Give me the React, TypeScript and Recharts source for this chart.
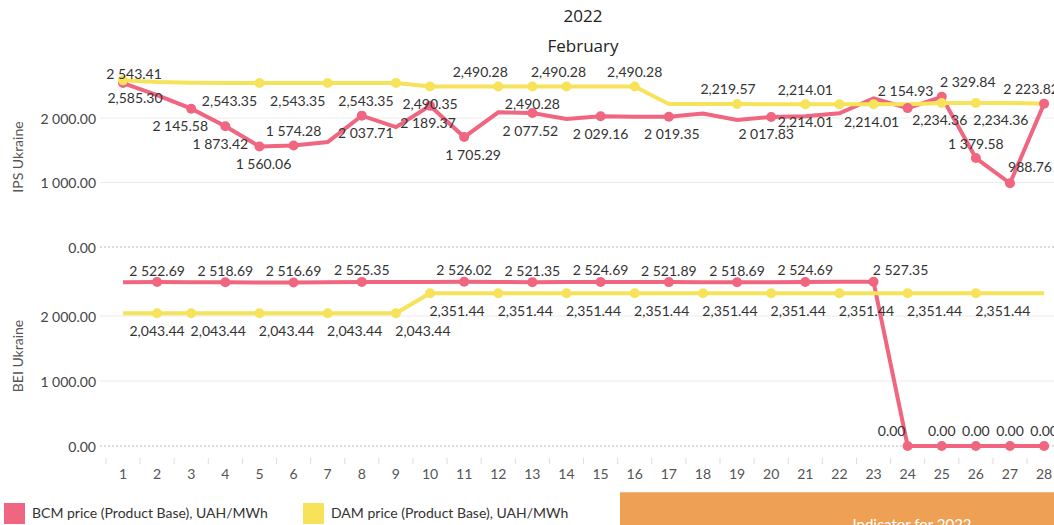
import { LineChart, Line, XAxis, YAxis, ReferenceLine, LabelList } from 'recharts'

const days = [1, 2, 3, 4, 5, 6, 7, 8, 9, 10, 11, 12, 13, 14, 15, 16, 17, 18, 19, 20, 21, 22, 23, 24, 25, 26, 27, 28]
const ipsBcm = [2543.41, 2355, 2145.58, 1873.42, 1560.06, 1574.28, 1628, 2037.71, 1860, 2189.37, 1705.29, 2090, 2077.52, 1985, 2029.16, 2020, 2019.35, 2070, 1970, 2017.83, 2028, 2075, 2305, 2154.93, 2329.84, 1379.58, 988.76, 2223.82]
const ipsDam = [2585.3, 2560, 2550, 2545, 2543.35, 2543.35, 2543.35, 2543.35, 2543.35, 2490.35, 2490.28, 2490.28, 2490.28, 2490.28, 2490.28, 2490.28, 2219.57, 2219.57, 2219.57, 2214.01, 2214.01, 2214.01, 2214.01, 2214.01, 2234.36, 2234.36, 2234.36, 2223.82]
const beiBcm = [2520, 2522.69, 2520, 2518.69, 2517, 2516.69, 2520, 2525.35, 2525, 2525, 2526.02, 2523, 2521.35, 2523, 2524.69, 2523, 2521.89, 2520, 2518.69, 2521, 2524.69, 2526, 2527.35, 0, 0, 0, 0, 0]
const beiDam = [2043.44, 2043.44, 2043.44, 2043.44, 2043.44, 2043.44, 2043.44, 2043.44, 2043.44, 2351.44, 2351.44, 2351.44, 2351.44, 2351.44, 2351.44, 2351.44, 2351.44, 2351.44, 2351.44, 2351.44, 2351.44, 2351.44, 2351.44, 2351.44, 2351.44, 2351.44, 2351.44, 2351.44]
const yTicks = [0, 1000, 2000]

const PINK = '#f0657f'
const YELLOW = '#f6e35a'
const FONT = 'Lato, "Open Sans", sans-serif'

// which points carry a label (and a marker); side + nudge like tableau placed them
type Lab = { day: number; side: 'up' | 'down'; dx?: number; dy?: number }
const topBcmLabs: Lab[] = [
  { day: 1, side: 'up', dx: 11, dy: -10 }, { day: 3, side: 'down', dx: -11 }, { day: 4, side: 'down', dx: -5 },
  { day: 5, side: 'down', dx: 4 }, { day: 6, side: 'up' }, { day: 8, side: 'down', dx: 4 },
  { day: 10, side: 'down', dx: -2 }, { day: 11, side: 'down', dx: 9 }, { day: 13, side: 'down', dx: -2 },
  { day: 15, side: 'down' }, { day: 17, side: 'down', dx: 3 }, { day: 20, side: 'down', dx: -5 },
  { day: 24, side: 'up', dx: -2, dy: -18 }, { day: 25, side: 'up', dx: 26 }, { day: 26, side: 'up' },
  { day: 27, side: 'up', dx: 20, dy: -17 }, { day: 28, side: 'up', dx: -13, dy: -15 },
]
const topDamLabs: Lab[] = [
  { day: 1, side: 'down', dx: 12 }, { day: 5, side: 'down', dx: -30 }, { day: 7, side: 'down', dx: -30 },
  { day: 9, side: 'down', dx: -30 }, { day: 10, side: 'down' }, { day: 12, side: 'up', dx: -18 },
  { day: 13, side: 'down' }, { day: 14, side: 'up', dx: -8 }, { day: 16, side: 'up' },
  { day: 19, side: 'up', dx: -9 }, { day: 21, side: 'up' }, { day: 22, side: 'down', dx: -34 },
  { day: 23, side: 'down', dx: -2 }, { day: 25, side: 'down', dx: -2 }, { day: 26, side: 'down', dx: 25 },
]
const botBcmLabs: Lab[] = [
  ...[2, 4, 6, 8, 11, 13, 15, 17, 19, 21].map(d => ({ day: d, side: 'up' as const, dy: -12 })),
  { day: 23, side: 'up', dx: 27, dy: -12 }, { day: 24, side: 'up', dx: -16, dy: -16 },
  ...[25, 26, 27, 28].map(d => ({ day: d, side: 'up' as const, dy: -16 })),
]
const botDamLabs: Lab[] = [
  { day: 2, side: 'down' },
  ...[3, 5, 7, 9, 10, 12, 14, 16, 18, 20, 22, 24, 26].map(d => ({ day: d, side: 'down' as const, dx: 27 })),
]

const spaceFmt = (v: number) => {
  const [i, f] = v.toFixed(2).split('.')
  return i.replace(/\B(?=(\d{3})+(?!\d))/g, ' ') + '.' + f
}
const commaFmt = (v: number) => {
  const [i, f] = v.toFixed(2).split('.')
  return i.replace(/\B(?=(\d{3})+(?!\d))/g, ',') + '.' + f
}

const topData = days.map((d, i) => ({ day: d, bcm: ipsBcm[i], dam: ipsDam[i] }))
const botData = days.map((d, i) => ({ day: d, bcm: beiBcm[i], dam: beiDam[i] }))

const W = 1054
const LEFT = 100
const X_DOMAIN: [number, number] = [0.326, 28.29]
const HALF_BAND = (W - LEFT) / (X_DOMAIN[1] - X_DOMAIN[0]) / 2

function makeDot(labs: Lab[], color: string) {
  const set = new Set(labs.map(l => l.day))
  return (p: any) => {
    if (!set.has(days[p.index])) return <g key={`n${p.index}`} />
    return <circle key={`d${p.index}`} cx={p.cx} cy={p.cy} r={5} fill={color} stroke="none" />
  }
}

function makeLabel(labs: Lab[], fmt: (v: number) => string) {
  return (p: any) => {
    const l = labs.find(o => o.day === days[p.index])
    if (!l) return null
    const dy = l.dy ?? (l.side === 'up' ? -15 : 17)
    return (
      <text x={p.x + (l.dx ?? 0)} y={p.y + dy} textAnchor="middle" dominantBaseline="central"
        fill="#333" fontSize={14} fontFamily={FONT}>{fmt(p.value)}</text>
    )
  }
}

const YTick = (p: any) => (
  <text x={p.x} y={p.y} textAnchor="end" dominantBaseline="central" fill="#444" fontSize={14} fontFamily={FONT}>
    {spaceFmt(p.payload.value)}
  </text>
)

const XTick = (p: any) => (
  <g>
    <line x1={p.x - HALF_BAND} x2={p.x - HALF_BAND} y1={p.y + 6} y2={p.y + 12} stroke="#ddd" />
    <text x={p.x} y={p.y + 21} textAnchor="middle" dominantBaseline="central" fill="#555" fontSize={14} fontFamily={FONT}>
      {p.payload.value}
    </text>
  </g>
)

function Grid() {
  return [
    <ReferenceLine key="g1" y={1000} stroke="#ebebeb" />,
    <ReferenceLine key="g2" y={2000} stroke="#ebebeb" />,
    <ReferenceLine key="g0" y={0} stroke="#bbb" strokeDasharray="2 2" />,
  ]
}

const abs = (s: any) => ({ position: 'absolute' as const, ...s })

export default function App() {
  return (
    <div style={{ position: 'absolute', left: 0, top: 0, width: W, height: 525, overflow: 'hidden', background: '#fff', fontFamily: FONT }}>
      <div style={abs({ left: 483, width: 200, top: 4, textAlign: 'center', fontSize: 17, color: '#222', fontFamily: '"Open Sans", sans-serif', fontWeight: 500 })}>2022</div>
      <div style={abs({ left: 483, width: 200, top: 34, textAlign: 'center', fontSize: 17, color: '#222', fontFamily: '"Open Sans", sans-serif', fontWeight: 500 })}>February</div>

      <div style={abs({ left: 17, top: 157, transform: 'translate(-50%,-50%) rotate(-90deg)', fontSize: 14, color: '#555', whiteSpace: 'nowrap' })}>IPS Ukraine</div>
      <div style={abs({ left: 17, top: 356, transform: 'translate(-50%,-50%) rotate(-90deg)', fontSize: 14, color: '#555', whiteSpace: 'nowrap' })}>BEI Ukraine</div>

      <div style={abs({ left: 0, top: 55 })}>
        <LineChart width={W} height={200} data={topData} margin={{ top: 7, right: 0, bottom: 8, left: 0 }}>
          <XAxis type="number" dataKey="day" domain={X_DOMAIN} allowDataOverflow hide />
          <YAxis type="number" domain={[0, 2870]} ticks={yTicks} interval={0} width={LEFT} axisLine={false} tickLine={false}
            tickSize={0} tickMargin={4} tick={YTick} />
          {Grid()}
          <Line dataKey="bcm" stroke={PINK} strokeWidth={4} dot={makeDot(topBcmLabs, PINK)} activeDot={false} isAnimationActive={false}>
            <LabelList dataKey="bcm" content={makeLabel(topBcmLabs, spaceFmt)} />
          </Line>
          <Line dataKey="dam" stroke={YELLOW} strokeWidth={4} dot={makeDot(topDamLabs, YELLOW)} activeDot={false} isAnimationActive={false}>
            <LabelList dataKey="dam" content={makeLabel(topDamLabs, commaFmt)} />
          </Line>
        </LineChart>
      </div>

      <div style={abs({ left: 0, top: 245 })}>
        <LineChart width={W} height={240} data={botData} margin={{ top: 7, right: 0, bottom: 0, left: 0 }}>
          <XAxis type="number" dataKey="day" domain={X_DOMAIN} allowDataOverflow ticks={days} interval={0}
            axisLine={false} tickLine={false} tickSize={0} tickMargin={0} height={33} tick={XTick} />
          <YAxis type="number" domain={[-92, 2985]} ticks={yTicks} interval={0} width={LEFT} axisLine={false} tickLine={false}
            tickSize={0} tickMargin={4} tick={YTick} />
          {Grid()}
          <Line dataKey="bcm" stroke={PINK} strokeWidth={4} dot={makeDot(botBcmLabs, PINK)} activeDot={false} isAnimationActive={false}>
            <LabelList dataKey="bcm" content={makeLabel(botBcmLabs, spaceFmt)} />
          </Line>
          <Line dataKey="dam" stroke={YELLOW} strokeWidth={4} dot={makeDot(botDamLabs, YELLOW)} activeDot={false} isAnimationActive={false}>
            <LabelList dataKey="dam" content={makeLabel(botDamLabs, commaFmt)} />
          </Line>
        </LineChart>
      </div>

      <div style={abs({ left: 4, top: 503, width: 21, height: 21, background: PINK })} />
      <div style={abs({ left: 32, top: 504, fontSize: 14, color: '#333', whiteSpace: 'nowrap' })}>BCM price (Product Base), UAH/MWh</div>
      <div style={abs({ left: 303, top: 503, width: 21, height: 21, background: YELLOW })} />
      <div style={abs({ left: 331, top: 504, fontSize: 14, color: '#333', whiteSpace: 'nowrap' })}>DAM price (Product Base), UAH/MWh</div>

      <div style={abs({ left: 620, top: 492, width: 434, height: 40, background: '#eea055', borderTop: '1px solid #f3b77f' })}>
        <div style={abs({ left: 0, width: 584, top: 22, textAlign: 'center', fontSize: 15, color: '#fff', whiteSpace: 'nowrap' })}>Indicator for 2022</div>
      </div>
    </div>
  )
}
